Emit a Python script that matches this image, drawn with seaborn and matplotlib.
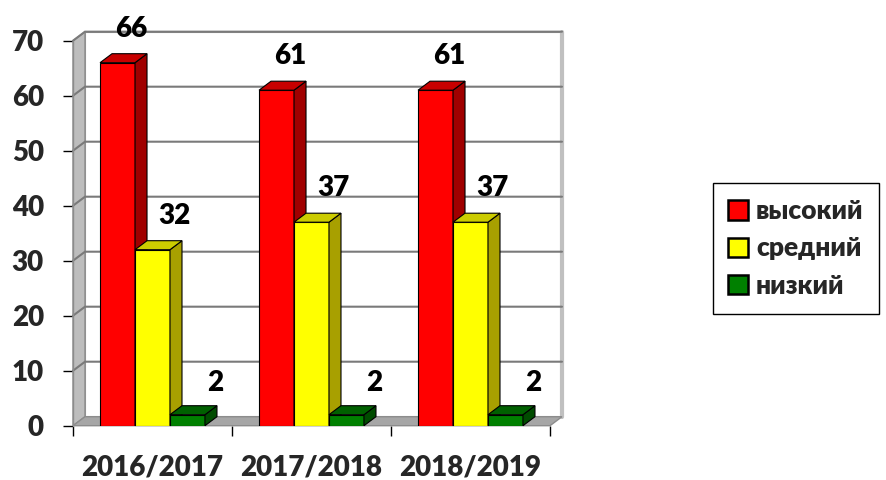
import matplotlib
matplotlib.use("Agg")
import matplotlib.pyplot as plt
from matplotlib.patches import Polygon, Patch
import seaborn as sns
import pandas as pd

years = ["2016/2017", "2017/2018", "2018/2019"]
levels = ["высокий", "средний", "низкий"]
high = [66, 61, 61]
mid = [32, 37, 37]
low = [2, 2, 2]
yticks = [0, 10, 20, 30, 40, 50, 60, 70]

front_colors = ["#FF0000", "#FFFF00", "#008000"]
side_colors = ["#A00000", "#A8A000", "#004C00"]
top_colors = ["#C80000", "#CCCC00", "#006000"]

sns.set_theme(style="white")
plt.rcParams["font.family"] = ["Lato", "Open Sans", "DejaVu Sans"]
FW = "heavy"
plt.rcParams["font.weight"] = FW

df = pd.DataFrame({
    "year": years * 3,
    "level": [levels[0]] * 3 + [levels[1]] * 3 + [levels[2]] * 3,
    "value": high + mid + low,
})

W, H = 887, 480
fig = plt.figure(figsize=(W / 100, H / 100), dpi=100)
L, R, B, T = 73, 550, 425.7, 40.7
ax = fig.add_axes([L / W, 1 - B / H, (R - L) / W, (B - T) / H])
ax.patch.set_alpha(0)

sns.barplot(data=df, x="year", y="value", hue="level", hue_order=levels,
            palette=front_colors, saturation=1, width=0.66, ax=ax,
            edgecolor="black", linewidth=0.8, legend=False, errorbar=None)

ax.set_xlim(-0.5, 2.5)
ax.set_ylim(0, 70)
for s in ax.spines.values():
    s.set_visible(False)

# depth offset in data units (12 px right, 9 px up)
DX = 12 / ((R - L) / 3)
DY = 9 / ((B - T) / 70)

# back wall
ax.add_patch(Polygon([(-0.5 + DX, DY), (2.5 + DX, DY), (2.5 + DX, 70 + DY), (-0.5 + DX, 70 + DY)],
                     closed=True, facecolor="white", edgecolor="#9a9a9a", lw=1.5,
                     zorder=0.5, clip_on=False))
ax.plot([2.5 + DX, 2.5 + DX], [DY, 70 + DY], color="#c0c0c0", lw=3, zorder=0.6, clip_on=False)
# left wall
ax.add_patch(Polygon([(-0.5, 0), (-0.5 + DX, DY), (-0.5 + DX, 70 + DY), (-0.5, 70)],
                     closed=True, facecolor="#bdbdbd", edgecolor="#8c8c8c", lw=1,
                     zorder=0.8, clip_on=False))
# gridlines
for v in yticks[1:]:
    ax.plot([-0.5, -0.5 + DX, 2.5 + DX], [v, v + DY, v + DY], color="#7a7a7a",
            lw=1.5, zorder=1, clip_on=False, solid_joinstyle="miter")
# floor
ax.add_patch(Polygon([(-0.5, 0), (2.5, 0), (2.5 + DX, DY), (-0.5 + DX, DY)],
                     closed=True, facecolor="#a6a6a6", edgecolor="#8c8c8c", lw=1,
                     zorder=1.5, clip_on=False))

# 3D faces for bars
label_offsets = [(14, 34), (22, 34), (28, 32)]
for k, cont in enumerate(ax.containers):
    for bar in cont:
        x0 = bar.get_x()
        w = bar.get_width()
        h = bar.get_height()
        z = 3 + x0 * 0.5
        bar.set_zorder(z)
        ax.add_patch(Polygon([(x0 + w, 0), (x0 + w + DX, DY), (x0 + w + DX, h + DY), (x0 + w, h)],
                             closed=True, facecolor=side_colors[k], edgecolor="black",
                             lw=0.8, zorder=z + 0.01, clip_on=False))
        ax.add_patch(Polygon([(x0, h), (x0 + w, h), (x0 + w + DX, h + DY), (x0 + DX, h + DY)],
                             closed=True, facecolor=top_colors[k], edgecolor="black",
                             lw=0.8, zorder=z + 0.01, clip_on=False))
        ax.annotate(f"{h:.0f}", (x0 + w / 2, h), xytext=label_offsets[k],
                    textcoords="offset pixels", ha="center", va="center",
                    fontsize=20, fontweight=FW, color="black", zorder=20,
                    annotation_clip=False)

ax.set_yticks(yticks)
ax.set_yticklabels([str(v) for v in yticks], fontsize=20, fontweight=FW)
ax.tick_params(axis="y", length=7, width=1, color="black", pad=14, left=True)
ax.set_xticks([0, 1, 2])
ax.set_xticklabels(years, fontsize=20, fontweight=FW)
ax.set_xticks([-0.5, 0.5, 1.5, 2.5], minor=True)
ax.tick_params(axis="x", which="major", length=0, pad=21)
ax.tick_params(axis="x", which="minor", length=7, width=1, color="black", bottom=True)
ax.plot([-0.5, -0.5], [0, 70], color="#8c8c8c", lw=1, zorder=2, clip_on=False)
ax.set_xlabel("")
ax.set_ylabel("")

handles = [Patch(facecolor=c, edgecolor="black", lw=1.8) for c in front_colors]
leg = fig.legend(handles, levels, loc="center", bbox_to_anchor=(796 / W, 1 - 248.5 / H),
                 frameon=True, fancybox=False, edgecolor="black", framealpha=1,
                 prop={"size": 19, "weight": FW}, handlelength=0.75, handleheight=0.75,
                 handletextpad=0.3, labelspacing=0.5, borderpad=0.6, borderaxespad=0)
leg.get_frame().set_linewidth(1)

fig.savefig("out.png", dpi=100)
